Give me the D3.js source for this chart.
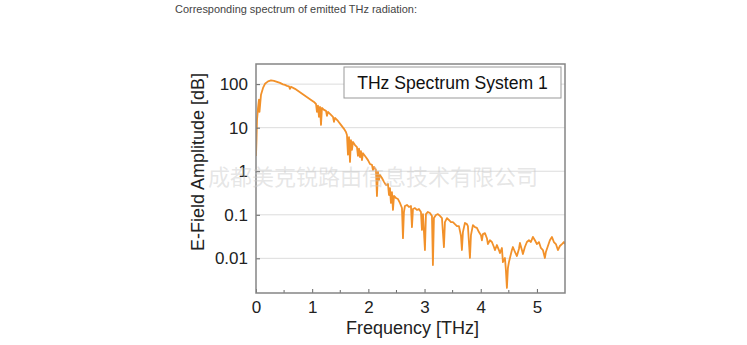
<!DOCTYPE html>
<html>
<head>
<meta charset="utf-8">
<script src="https://cdn.jsdelivr.net/npm/d3@7"></script>
<style>
  html, body { margin: 0; padding: 0; background: #fff; }
  svg { display: block; }
</style>
</head>
<body>
<svg id="chart" width="747" height="345"></svg>
<script>
const pageTitle = "Corresponding spectrum of emitted THz radiation:";
const legendLabel = "THz Spectrum System 1";
const watermark = "成都美克锐路由信息技术有限公司";
const xLabel = "Frequency [THz]";
const yLabel = "E-Field Amplitude [dB]";
const xTickValues = [0, 1, 2, 3, 4, 5];
const xMinorTicks = [0.5, 1.5, 2.5, 3.5, 4.5];
const yTickValues = [0.01, 0.1, 1, 10, 100];
const yTickLabels = ["0.01", "0.1", "1", "10", "100"];

const frequency = [
  0, 0.009, 0.018, 0.036, 0.053, 0.062, 0.089, 0.125, 0.160, 0.214,
  0.267, 0.320, 0.374, 0.427, 0.480, 0.516, 0.552, 0.587, 0.605, 0.623,
  0.694, 0.783, 0.872, 0.961, 1.032, 1.068, 1.085, 1.103, 1.121, 1.139,
  1.157, 1.174, 1.210, 1.246, 1.263, 1.281, 1.317, 1.370, 1.388, 1.406,
  1.459, 1.512, 1.566, 1.601, 1.619, 1.637, 1.655, 1.673, 1.690, 1.708,
  1.726, 1.762, 1.797, 1.815, 1.833, 1.851, 1.868, 1.886, 1.904, 1.957,
  1.993, 2.028, 2.064, 2.082, 2.100, 2.135, 2.153, 2.171, 2.189, 2.206,
  2.242, 2.278, 2.313, 2.349, 2.367, 2.384, 2.402, 2.420, 2.438, 2.456,
  2.491, 2.527, 2.562, 2.598, 2.616, 2.633, 2.651, 2.687, 2.722, 2.758,
  2.776, 2.794, 2.829, 2.865, 2.900, 2.936, 2.954, 2.972, 3.007, 3.025,
  3.060, 3.096, 3.132, 3.149, 3.167, 3.203, 3.238, 3.274, 3.310, 3.345,
  3.363, 3.399, 3.434, 3.470, 3.505, 3.541, 3.577, 3.612, 3.648, 3.665,
  3.683, 3.719, 3.754, 3.772, 3.808, 3.826, 3.861, 3.897, 3.932, 3.968,
  4.004, 4.021, 4.039, 4.075, 4.110, 4.128, 4.164, 4.199, 4.235, 4.253,
  4.288, 4.324, 4.342, 4.377, 4.395, 4.431, 4.448, 4.466, 4.484, 4.502,
  4.520, 4.555, 4.573, 4.609, 4.644, 4.680, 4.698, 4.733, 4.751, 4.786,
  4.822, 4.858, 4.893, 4.929, 4.964, 5.000, 5.036, 5.071, 5.107, 5.142,
  5.160, 5.196, 5.231, 5.267, 5.302, 5.338, 5.374, 5.409, 5.445, 5.480,
  5.498
];
const amplitude = [
  2.25, 5.2, 15.1, 28.5, 44, 23, 57, 82, 102, 116,
  122, 119, 113, 107, 99, 96, 91, 89, 78, 87,
  78, 65, 54, 45, 39, 35, 23, 32, 17.7, 30,
  11.6, 28.5, 25.6, 24.3, 18.7, 23, 20.8, 17.7, 13.6, 16.8,
  14.3, 11.6, 9.4, 8.0, 6.8, 2.4, 6.1, 1.64, 5.2, 3.1,
  4.7, 4.0, 3.6, 2.25, 3.3, 2.1, 2.9, 1.8, 2.6, 2.1,
  1.8, 1.47, 1.40, 1.07, 1.26, 1.07, 0.27, 0.96, 0.63, 0.82,
  0.70, 0.57, 0.48, 0.51, 0.285, 0.41, 0.187, 0.33, 0.129, 0.27,
  0.243, 0.23, 0.187, 0.143, 0.029, 0.116, 0.159, 0.168, 0.151, 0.159,
  0.052, 0.136, 0.143, 0.129, 0.136, 0.116, 0.045, 0.104, 0.0155, 0.104,
  0.116, 0.110, 0.094, 0.0070, 0.084, 0.099, 0.104, 0.094, 0.084, 0.018,
  0.068, 0.084, 0.076, 0.068, 0.068, 0.061, 0.055, 0.055, 0.033, 0.0155,
  0.040, 0.065, 0.061, 0.055, 0.0102, 0.034, 0.058, 0.052, 0.050, 0.040,
  0.034, 0.026, 0.036, 0.038, 0.029, 0.0213, 0.026, 0.0237, 0.0182, 0.0155,
  0.0202, 0.0155, 0.0132, 0.0173, 0.0082, 0.0102, 0.0054, 0.0021, 0.0060, 0.0082,
  0.0102, 0.0155, 0.0182, 0.014, 0.0113, 0.0164, 0.0225, 0.0155, 0.0126, 0.0182,
  0.0237, 0.026, 0.0237, 0.031, 0.026, 0.0213, 0.0237, 0.0173, 0.0155, 0.0102,
  0.014, 0.0192, 0.026, 0.031, 0.0237, 0.0213, 0.0155, 0.0192, 0.0213, 0.0237,
  0.0213
];

const svg = d3.select("#chart");
const W = 747, H = 345;
const margin = { left: 256, right: 747 - 565, top: 64, bottom: 345 - 293 };
const pw = W - margin.left - margin.right;
const ph = H - margin.top - margin.bottom;
const font = "'Liberation Sans', Arial, Helvetica, sans-serif";

svg.append("rect").attr("width", W).attr("height", H).attr("fill", "#fff");

svg.append("text")
  .attr("x", 175).attr("y", 13)
  .attr("font-family", font).attr("font-size", 11)
  .attr("fill", "#444")
  .attr("textLength", 242).attr("lengthAdjust", "spacingAndGlyphs")
  .text(pageTitle);

const x = d3.scaleLinear().domain([0, 5.5]).range([0, pw]);
const y = d3.scaleLog().domain([0.0016, 290]).range([ph, 0]);

const g = svg.append("g").attr("transform", `translate(${margin.left},${margin.top})`);

g.append("defs").append("clipPath").attr("id", "clip")
  .append("rect").attr("width", pw).attr("height", ph);

// gridlines
g.selectAll(".grid").data(yTickValues).enter().append("line")
  .attr("x1", 0).attr("x2", pw)
  .attr("y1", d => y(d)).attr("y2", d => y(d))
  .attr("stroke", "#dcdcdc").attr("stroke-width", 1);

// curve
const pts = frequency.map((f, i) => [f, amplitude[i]]);
g.append("path")
  .datum(pts)
  .attr("clip-path", "url(#clip)")
  .attr("fill", "none")
  .attr("stroke", "#f2912a")
  .attr("stroke-width", 1.8)
  .attr("stroke-linejoin", "round")
  .attr("d", d3.line().x(d => x(d[0])).y(d => y(d[1])));

// axes
const xAxis = d3.axisBottom(x).tickValues(xTickValues).tickSize(-4).tickPadding(8).tickFormat(d3.format("d"));
const xg = g.append("g").attr("transform", `translate(0,${ph})`).call(xAxis);
xg.select(".domain").remove();
xg.selectAll(".tick line").attr("stroke", "#666");
xg.selectAll("text").attr("font-family", font).attr("font-size", 17).attr("fill", "#222");

g.append("g").attr("transform", `translate(0,${ph})`)
  .selectAll("line").data(xMinorTicks).enter().append("line")
  .attr("x1", d => x(d)).attr("x2", d => x(d))
  .attr("y1", 0).attr("y2", -3).attr("stroke", "#666");

const yAxis = d3.axisLeft(y).tickValues(yTickValues).tickSize(-4).tickPadding(8)
  .tickFormat((d, i) => yTickLabels[i]);
const yg = g.append("g").call(yAxis);
yg.select(".domain").remove();
yg.selectAll(".tick line").attr("stroke", "#666");
yg.selectAll("text").attr("font-family", font).attr("font-size", 17).attr("fill", "#222");

// frame
g.append("rect").attr("width", pw).attr("height", ph)
  .attr("fill", "none").attr("stroke", "#858585").attr("stroke-width", 1.5);

// legend box
const lg = svg.append("g");
lg.append("rect").attr("x", 344).attr("y", 67).attr("width", 217).attr("height", 31)
  .attr("fill", "#fff").attr("stroke", "#999").attr("stroke-width", 1);
lg.append("text").attr("x", 452.5).attr("y", 89)
  .attr("text-anchor", "middle")
  .attr("font-family", font).attr("font-size", 17.6).attr("fill", "#111")
  .text(legendLabel);

// axis titles
svg.append("text")
  .attr("x", margin.left + pw / 2 + 2).attr("y", 334)
  .attr("text-anchor", "middle")
  .attr("font-family", font).attr("font-size", 18).attr("fill", "#222")
  .text(xLabel);

svg.append("text")
  .attr("transform", `translate(204,${162}) rotate(-90)`)
  .attr("text-anchor", "middle")
  .attr("font-family", font).attr("font-size", 18).attr("fill", "#222")
  .text(yLabel);

// watermark
svg.append("text")
  .attr("x", 373).attr("y", 185)
  .attr("text-anchor", "middle")
  .attr("font-family", "'Noto Sans CJK SC', sans-serif").attr("font-size", 22)
  .attr("fill", "#c8c8c8").attr("fill-opacity", 0.45)
  .attr("textLength", 330).attr("lengthAdjust", "spacingAndGlyphs")
  .text(watermark);
</script>
</body>
</html>
